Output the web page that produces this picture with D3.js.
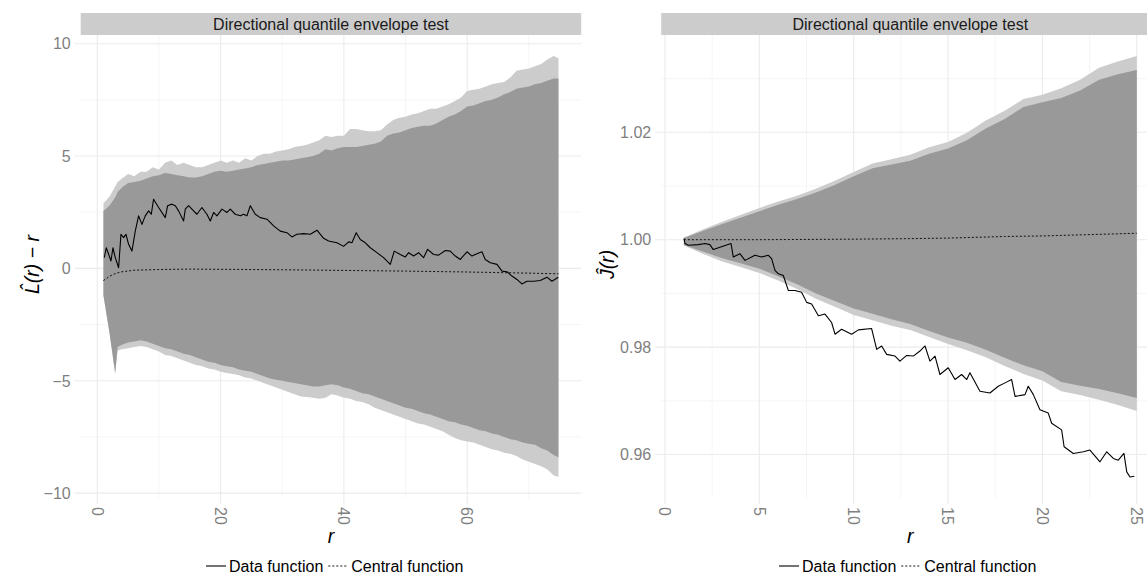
<!DOCTYPE html>
<html><head><meta charset="utf-8">
<script src="https://cdn.jsdelivr.net/npm/d3@7"></script>
<style>
body{margin:0;background:#fff;}
svg{display:block;font-family:"Liberation Sans",Arial,Helvetica,sans-serif;}
</style></head>
<body><svg id="c" width="1147" height="575"></svg>
<script>
// ---------------- DATA ----------------
const stripTitle = "Directional quantile envelope test";
const legendLabels = ["Data function", "Central function"];

// Left panel: L(r) - r
const Lr = [1,2,2.9,3.3,4,5,6,7,8,9,10,11,12,13,14,15,16,17,18,19,20,21,22,23,24,25,26,27,28,29,30,31,32,33,34,35,36,37,38,39,40,41,42,43,44,45,46,47,48,49,50,51,52,53,54,55,56,57,58,59,60,61,62,63,64,65,66,67,68,69,70,71,72,73,74,74.8];
const LhiLight = [2.9,3.2,3.65,3.85,4.0,4.2,4.1,4.3,4.3,4.5,4.4,4.7,4.8,4.6,4.7,4.6,4.5,4.5,4.6,4.7,4.8,4.7,4.8,4.7,4.9,4.8,5.0,5.1,5.1,5.2,5.25,5.3,5.4,5.45,5.5,5.6,5.7,5.9,5.85,5.9,5.9,6.2,6.2,6.15,6.1,6.1,6.15,6.4,6.6,6.7,6.75,6.85,6.9,7.0,7.1,7.1,7.2,7.3,7.45,7.6,7.9,7.95,8.0,8.1,8.2,8.25,8.3,8.5,8.8,8.85,8.9,9.0,9.1,9.3,9.45,9.35];
const LhiDark = [2.55,2.8,3.15,3.4,3.6,3.8,3.85,3.9,4.0,4.1,4.15,4.25,4.2,4.15,4.1,4.05,4.05,4.1,4.2,4.3,4.35,4.3,4.35,4.4,4.45,4.5,4.6,4.65,4.7,4.75,4.8,4.8,4.85,4.9,4.95,5.0,5.1,5.3,5.25,5.35,5.4,5.4,5.4,5.45,5.5,5.55,5.65,5.9,6.0,6.05,6.15,6.25,6.3,6.35,6.35,6.45,6.6,6.75,6.85,7.0,7.2,7.25,7.35,7.45,7.5,7.6,7.75,7.85,8.0,8.05,8.1,8.2,8.25,8.35,8.45,8.45];
const LloDark = [-1.2,-2.9,-4.65,-3.5,-3.4,-3.3,-3.25,-3.2,-3.25,-3.35,-3.45,-3.55,-3.6,-3.7,-3.8,-3.85,-3.95,-4.05,-4.15,-4.2,-4.3,-4.35,-4.4,-4.5,-4.55,-4.6,-4.7,-4.8,-4.9,-4.95,-5.0,-5.05,-5.1,-5.15,-5.2,-5.25,-5.25,-5.2,-5.15,-5.2,-5.3,-5.35,-5.45,-5.55,-5.6,-5.7,-5.8,-5.9,-6.0,-6.1,-6.2,-6.25,-6.35,-6.45,-6.5,-6.6,-6.7,-6.8,-6.85,-6.95,-7.0,-7.1,-7.2,-7.25,-7.35,-7.4,-7.5,-7.6,-7.65,-7.75,-7.8,-7.85,-8.0,-8.1,-8.3,-8.4];
const LloLight = [-1.2,-2.9,-4.7,-3.65,-3.6,-3.55,-3.5,-3.45,-3.5,-3.6,-3.7,-3.85,-3.9,-4.0,-4.1,-4.2,-4.3,-4.35,-4.45,-4.5,-4.6,-4.65,-4.7,-4.75,-4.85,-4.9,-5.0,-5.1,-5.2,-5.3,-5.4,-5.5,-5.6,-5.7,-5.72,-5.75,-5.8,-5.75,-5.6,-5.65,-5.75,-5.8,-5.9,-5.95,-6.05,-6.2,-6.3,-6.4,-6.5,-6.6,-6.7,-6.8,-6.9,-6.95,-7.05,-7.15,-7.25,-7.4,-7.55,-7.65,-7.7,-7.75,-7.85,-7.95,-8.05,-8.1,-8.2,-8.25,-8.35,-8.5,-8.6,-8.7,-8.8,-8.95,-9.2,-9.28];
const LcenR = [1,2,3,4,6,10,15,20,30,40,50,60,70,74.8];
const LcenV = [-0.54,-0.35,-0.22,-0.15,-0.08,-0.05,-0.03,-0.04,-0.06,-0.09,-0.12,-0.16,-0.21,-0.24];
const LdatR = [1.14,1.46,1.84,2.22,2.54,2.92,3.46,3.84,4.27,4.65,5.08,5.62,6.16,6.7,7.24,7.78,8.33,8.76,9.13,9.95,11.03,11.41,12.11,12.65,13.19,14.0,14.27,14.81,15.62,16.16,16.97,17.78,18.33,18.87,19.41,20.22,21.03,21.57,22.38,23.2,23.73,24.27,24.82,25.63,26.44,27.52,28.6,29.68,30.76,31.57,32.38,33.47,34.55,35.63,36.71,37.52,38.87,39.95,40.77,41.3,42.0,42.66,43.47,44.28,45.36,46.44,47.52,48.17,49.15,49.96,50.5,51.31,52.12,52.93,53.58,54.55,55.36,56.45,57.25,58.07,58.88,59.96,60.77,61.58,62.39,62.93,63.75,64.83,65.64,66.45,67.26,68.07,68.87,69.69,70.77,71.85,72.93,73.74,74.77];
const LdatV = [0.48,0.92,0.63,0.33,0.92,0.48,0.03,1.52,1.37,1.52,1.07,0.77,1.66,2.34,1.96,2.34,2.56,2.41,3.08,2.71,2.26,2.79,2.86,2.79,2.56,2.11,2.64,2.79,2.56,2.41,2.71,2.41,2.11,2.49,2.34,2.64,2.49,2.64,2.41,2.34,2.41,2.34,2.79,2.41,2.26,2.19,1.89,1.66,1.59,1.4,1.52,1.55,1.52,1.7,1.34,1.22,1.14,0.98,1.18,1.14,1.59,1.29,1.14,0.92,0.7,0.48,0.18,0.77,0.62,0.51,0.7,0.55,0.7,0.48,0.85,0.62,0.59,0.8,0.77,0.55,0.4,0.74,0.55,0.65,0.74,0.4,0.25,0.18,-0.12,-0.15,-0.34,-0.49,-0.69,-0.57,-0.57,-0.54,-0.39,-0.57,-0.39];

// Right panel: J(r)
const Rr = [1,2,3,4,5,6,7,8,9,10,11,12,13,14,15,16,17,18,19,20,21,22,23,24,25];
const RhiLight = [1.0004,1.0019,1.0033,1.0046,1.0059,1.0071,1.0082,1.0095,1.0110,1.0126,1.0142,1.0150,1.0158,1.0172,1.0182,1.0199,1.0222,1.0240,1.0262,1.0270,1.0282,1.0298,1.0320,1.0332,1.0342];
const RhiDark = [1.0003,1.0016,1.0029,1.0041,1.0053,1.0065,1.0076,1.0088,1.0102,1.0118,1.0133,1.0140,1.0147,1.0160,1.0170,1.0185,1.0207,1.0225,1.0247,1.0256,1.0264,1.0278,1.0298,1.0308,1.0316];
const RloDark = [0.9990,0.9978,0.9966,0.9956,0.9946,0.9932,0.9917,0.9900,0.9886,0.9872,0.9862,0.9852,0.9843,0.9830,0.9818,0.9808,0.9795,0.9780,0.9766,0.9755,0.9735,0.9728,0.9722,0.9714,0.9705];
const RloLight = [0.9989,0.9974,0.9960,0.9949,0.9938,0.9924,0.9908,0.9890,0.9875,0.9860,0.9850,0.9840,0.9832,0.9819,0.9806,0.9794,0.9781,0.9765,0.9750,0.9738,0.9718,0.9711,0.9702,0.9692,0.9681];
const RcenR = [1,5,10,13,15,18,20,22,24,25];
const RcenV = [1.0000,1.0000,1.0001,1.0002,1.0003,1.0006,1.0007,1.0009,1.0011,1.0012];
const RdatR = [1.01,1.06,1.24,1.77,2.12,2.38,2.56,3.5,3.62,3.97,4.24,4.77,5.12,5.48,5.65,5.83,6.01,6.27,6.54,6.89,7.24,7.51,7.77,8.13,8.48,8.83,9.01,9.36,9.89,10.25,10.95,11.22,11.48,11.75,12.19,12.45,12.81,13.16,13.51,13.78,14.04,14.31,14.57,15.01,15.37,15.72,15.99,16.16,16.69,17.22,17.66,18.02,18.37,18.55,19.08,19.25,19.52,19.87,20.31,20.49,21.02,21.15,21.64,22.17,22.52,23.05,23.41,23.76,24.02,24.32,24.47,24.64,24.87];
const RdatV = [1.00022,0.99929,0.99897,0.99909,0.99929,0.99909,0.99816,0.99929,0.99678,0.9974,0.99615,0.99709,0.99678,0.99709,0.99647,0.99428,0.99365,0.99334,0.99053,0.99053,0.99022,0.98833,0.98802,0.98583,0.98615,0.98458,0.9824,0.98333,0.9824,0.98321,0.98346,0.97958,0.98021,0.97865,0.97834,0.9774,0.97845,0.97833,0.97927,0.98021,0.9774,0.97833,0.9749,0.97615,0.97396,0.9749,0.97396,0.97521,0.97177,0.97146,0.97271,0.97334,0.97396,0.97083,0.97115,0.97271,0.97115,0.96833,0.96771,0.96583,0.96458,0.96145,0.9602,0.96051,0.96083,0.95864,0.96051,0.95926,0.95895,0.9602,0.95676,0.95582,0.95595];

// Tick values and labels
const LxMajor = [0,20,40,60], LxMinor = [10,30,50,70];
const LyMajor = [-10,-5,0,5,10], LyMinor = [-7.5,-2.5,2.5,7.5];
const RxMajor = [0,5,10,15,20,25], RxMinor = [2.5,7.5,12.5,17.5,22.5];
const RyMajor = [0.96,0.98,1.00,1.02], RyMinor = [0.97,0.99,1.01,1.03];

// ---------------- DRAWING ----------------
const svg = d3.select("#c");
const TOP = 35, BOT = 498;
const FS = 16;
const C = {dark:"#999999", light:"#cccccc", strip:"#cccccc", grid:"#ebebeb", gridMinor:"#f3f3f3", tick:"#7f7f7f"};

function expand(ext){const d=(ext[1]-ext[0])*0.05;return [ext[0]-d, ext[1]+d];}

function drawPanel(o){
  const xs = d3.scaleLinear().domain(expand(d3.extent(o.r.concat(o.datR)))).range([o.x0, o.x1]);
  const allY = [].concat(o.hiL,o.loL,o.datV,o.cenV);
  const ys = d3.scaleLinear().domain(expand(d3.extent(allY))).range([BOT, TOP]);
  const g = svg.append("g");
  const cid = "clip"+o.id;
  svg.append("clipPath").attr("id",cid).append("rect").attr("x",o.x0).attr("y",TOP).attr("width",o.x1-o.x0).attr("height",BOT-TOP);
  // minor grid
  g.selectAll(".vmin").data(o.xMinor).enter().append("line")
    .attr("x1",d=>xs(d)).attr("x2",d=>xs(d)).attr("y1",TOP).attr("y2",BOT)
    .attr("stroke",C.gridMinor).attr("stroke-width",0.8);
  g.selectAll(".hmin").data(o.yMinor).enter().append("line")
    .attr("y1",d=>ys(d)).attr("y2",d=>ys(d)).attr("x1",o.x0).attr("x2",o.x1)
    .attr("stroke",C.gridMinor).attr("stroke-width",0.8);
  // major grid (extends as ticks)
  g.selectAll(".vmaj").data(o.xMajor).enter().append("line")
    .attr("x1",d=>xs(d)).attr("x2",d=>xs(d)).attr("y1",TOP).attr("y2",BOT+6)
    .attr("stroke",C.grid).attr("stroke-width",1.1);
  g.selectAll(".hmaj").data(o.yMajor).enter().append("line")
    .attr("y1",d=>ys(d)).attr("y2",d=>ys(d)).attr("x1",o.x0-6).attr("x2",o.x1)
    .attr("stroke",C.grid).attr("stroke-width",1.1);

  const pg = g.append("g").attr("clip-path",`url(#${cid})`);
  const idx = d3.range(o.r.length);
  const areaL = d3.area().x(i=>xs(o.r[i])).y0(i=>ys(o.loL[i])).y1(i=>ys(o.hiL[i]));
  const areaD = d3.area().x(i=>xs(o.r[i])).y0(i=>ys(o.loD[i])).y1(i=>ys(o.hiD[i]));
  pg.append("path").attr("d",areaL(idx)).attr("fill",C.light);
  pg.append("path").attr("d",areaD(idx)).attr("fill",C.dark);
  const line = (R,V)=>d3.line().x(i=>xs(R[i])).y(i=>ys(V[i]))(d3.range(R.length));
  pg.append("path").attr("d",line(o.cenR,o.cenV)).attr("fill","none").attr("stroke","#111").attr("stroke-width",1).attr("stroke-dasharray","2,2");
  pg.append("path").attr("d",line(o.datR,o.datV)).attr("fill","none").attr("stroke","#000").attr("stroke-width",1.1).attr("stroke-linejoin","round");

  // axis labels
  g.selectAll(".yl").data(o.yMajor).enter().append("text")
    .attr("x",o.x0-10).attr("y",d=>ys(d)).attr("dy","0.36em").attr("text-anchor","end")
    .attr("font-size",FS).attr("fill",C.tick).text(o.yFmt);
  g.selectAll(".xl").data(o.xMajor).enter().append("text")
    .attr("transform",d=>`translate(${xs(d)},${BOT+9}) rotate(90)`).attr("dy","0.36em").attr("text-anchor","start")
    .attr("font-size",FS).attr("fill",C.tick).text(d=>d3.format("d")(d));
  // strip
  g.append("rect").attr("x",o.x0).attr("y",13).attr("width",o.x1-o.x0).attr("height",TOP-13).attr("fill",C.strip);
  g.append("text").attr("x",(o.x0+o.x1)/2).attr("y",29.5).attr("text-anchor","middle").attr("font-size",FS).attr("fill","#1a1a1a").text(stripTitle);
  // x title
  g.append("text").attr("x",(o.x0+o.x1)/2).attr("y",543).attr("text-anchor","middle").attr("font-size",19.5).attr("font-style","italic").text("r");
  // y title
  g.append("text").attr("transform",`translate(${o.ytx},${(TOP+BOT)/2 - 2}) rotate(-90)`).attr("text-anchor","middle")
    .attr("font-size",19.5).attr("font-style","italic").attr("xml:space","preserve").text(o.ytitle);
  // legend
  const lg = g.append("g").attr("transform",`translate(${o.legX},566)`);
  lg.append("line").attr("x1",0).attr("x2",20).attr("y1",0).attr("y2",0).attr("stroke","#000").attr("stroke-width",1.1);
  const t1 = lg.append("text").attr("x",23).attr("y",5.8).attr("font-size",FS).text(legendLabels[0]);
  const w1 = t1.node().getComputedTextLength();
  const k2 = 23 + w1 + 5;
  lg.append("line").attr("x1",k2).attr("x2",k2+20).attr("y1",0).attr("y2",0).attr("stroke","#111").attr("stroke-width",1).attr("stroke-dasharray","2,2");
  lg.append("text").attr("x",k2+23).attr("y",5.8).attr("font-size",FS).text(legendLabels[1]);
}

drawPanel({id:"L", x0:80.7, x1:581.2, r:Lr, hiL:LhiLight, hiD:LhiDark, loD:LloDark, loL:LloLight,
  cenR:LcenR, cenV:LcenV, datR:LdatR, datV:LdatV, xMajor:LxMajor, xMinor:LxMinor, yMajor:LyMajor, yMinor:LyMinor,
  yFmt:d=>d<0?"\u2212"+Math.abs(d):String(d), ytitle:"L\u0302(r) \u2212 r", ytx:38.5, legX:206});
drawPanel({id:"R", x0:661.2, x1:1159.4, r:Rr, hiL:RhiLight, hiD:RhiDark, loD:RloDark, loL:RloLight,
  cenR:RcenR, cenV:RcenV, datR:RdatR, datV:RdatV, xMajor:RxMajor, xMinor:RxMinor, yMajor:RyMajor, yMinor:RyMinor,
  yFmt:d3.format(".2f"), ytitle:"J\u0302(r)", ytx:614, legX:779});
</script></body></html>
